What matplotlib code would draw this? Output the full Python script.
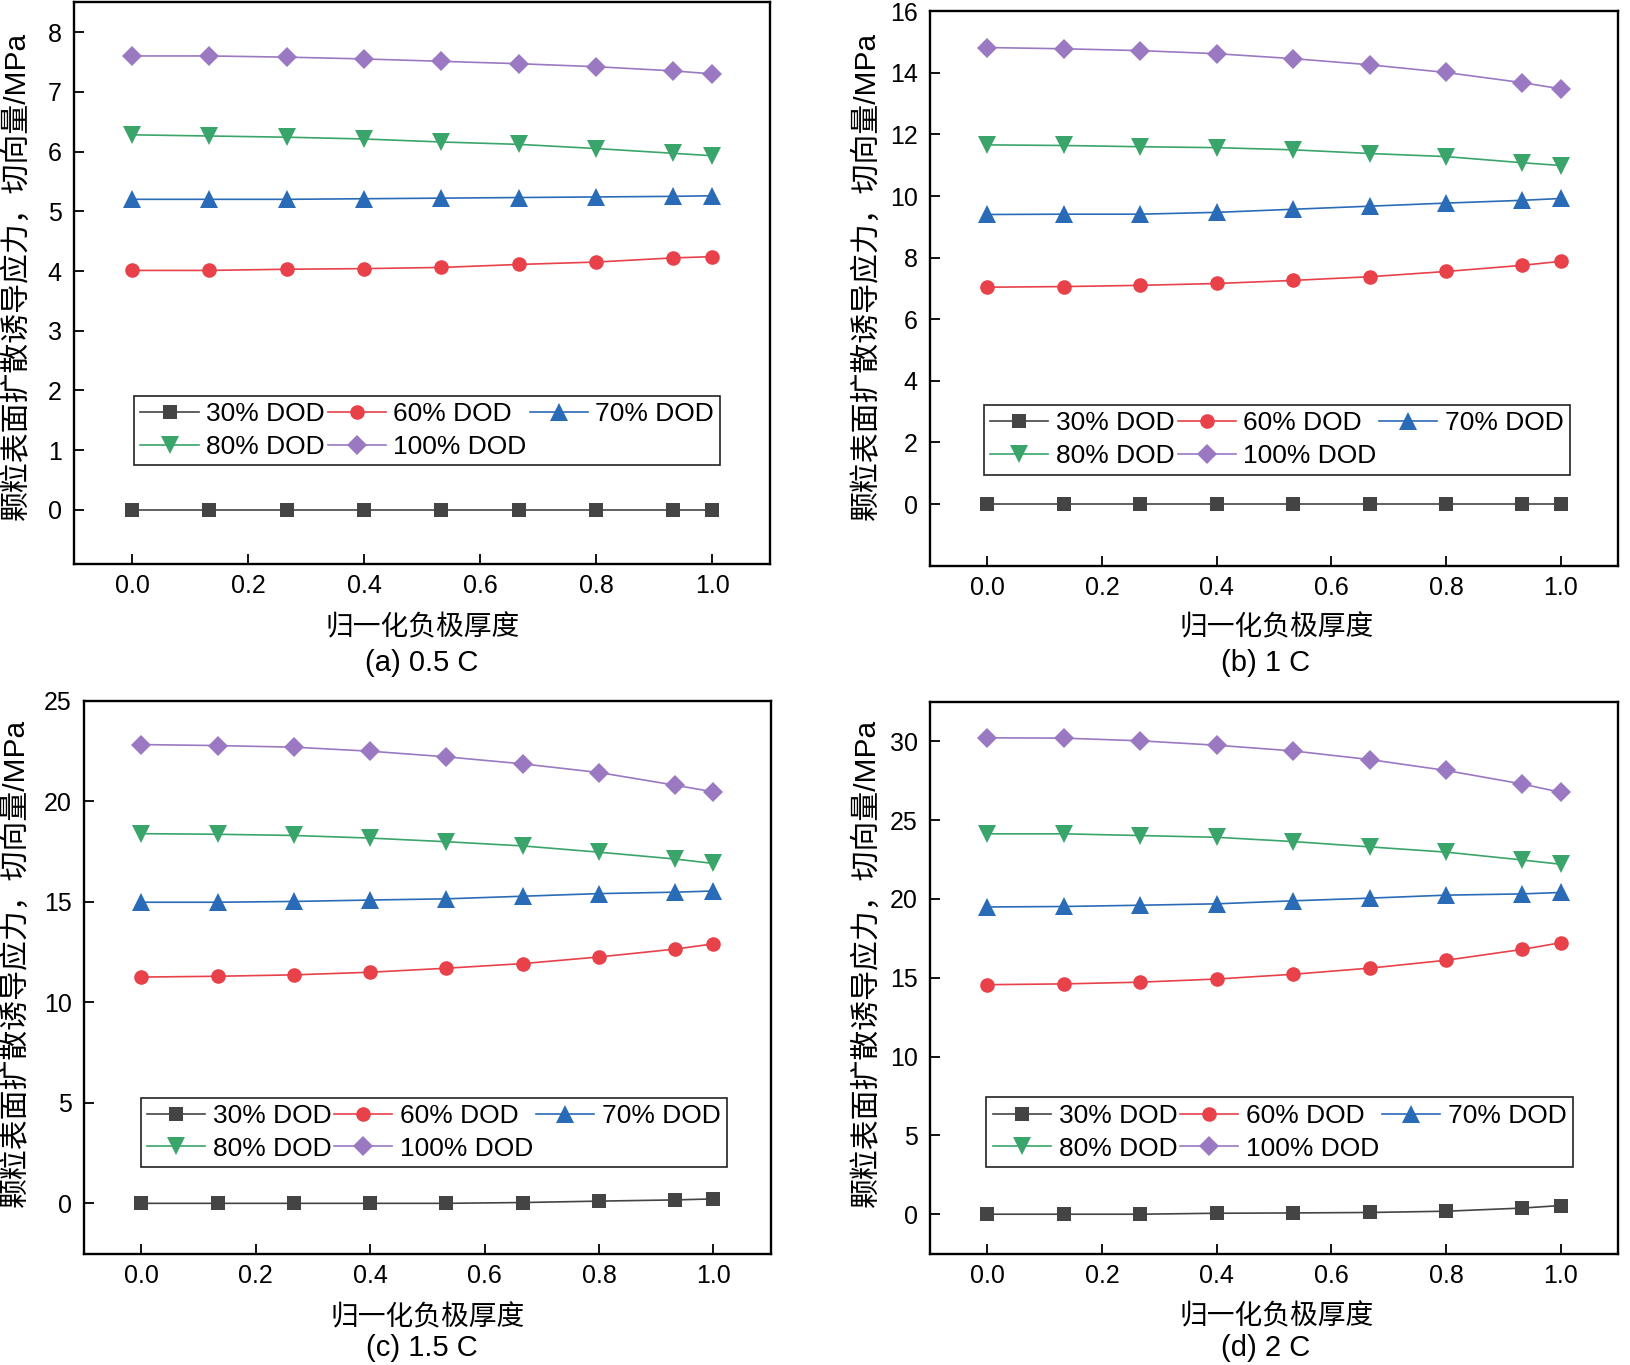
import matplotlib.pyplot as plt

plt.rcParams['font.family'] = ['Liberation Sans', 'Noto Sans CJK SC']

x = [0.0, 0.133, 0.267, 0.4, 0.533, 0.667, 0.8, 0.933, 1.0]
labels = ["30% DOD", "60% DOD", "70% DOD", "80% DOD", "100% DOD"]
captions = ["(a) 0.5 C", "(b) 1 C", "(c) 1.5 C", "(d) 2 C"]
xticks = [0.0, 0.2, 0.4, 0.6, 0.8, 1.0]
ylabel = "颗粒表面扩散诱导应力，切向量/MPa"
xlabel = "归一化负极厚度"

# (a) 0.5 C
a_30 = [0, 0, 0, 0, 0, 0, 0, 0, 0]
a_60 = [4.01, 4.01, 4.03, 4.04, 4.06, 4.11, 4.15, 4.22, 4.24]
a_70 = [5.20, 5.20, 5.20, 5.21, 5.22, 5.23, 5.24, 5.25, 5.26]
a_80 = [6.28, 6.26, 6.24, 6.21, 6.16, 6.12, 6.05, 5.97, 5.93]
a_100 = [7.60, 7.60, 7.58, 7.55, 7.51, 7.47, 7.42, 7.35, 7.30]
a_yticks = [0, 1, 2, 3, 4, 5, 6, 7, 8]

# (b) 1 C
b_30 = [0, 0, 0, 0, 0, 0, 0, 0, 0]
b_60 = [7.04, 7.06, 7.10, 7.16, 7.26, 7.38, 7.55, 7.75, 7.88]
b_70 = [9.40, 9.41, 9.41, 9.47, 9.57, 9.67, 9.77, 9.86, 9.92]
b_80 = [11.66, 11.64, 11.60, 11.57, 11.50, 11.38, 11.28, 11.08, 10.99]
b_100 = [14.82, 14.78, 14.72, 14.62, 14.46, 14.26, 14.01, 13.68, 13.48]
b_yticks = [0, 2, 4, 6, 8, 10, 12, 14, 16]

# (c) 1.5 C
c_30 = [0, 0, 0, 0, 0, 0.04, 0.11, 0.17, 0.22]
c_60 = [11.25, 11.29, 11.36, 11.49, 11.69, 11.92, 12.25, 12.64, 12.90]
c_70 = [14.97, 14.97, 15.01, 15.08, 15.14, 15.27, 15.40, 15.47, 15.53]
c_80 = [18.38, 18.35, 18.29, 18.16, 17.98, 17.77, 17.46, 17.12, 16.90]
c_100 = [22.81, 22.76, 22.68, 22.48, 22.20, 21.85, 21.42, 20.79, 20.46]
c_yticks = [0, 5, 10, 15, 20, 25]

# (d) 2 C
d_30 = [0, 0, 0, 0.06, 0.08, 0.11, 0.19, 0.39, 0.55]
d_60 = [14.56, 14.61, 14.72, 14.92, 15.22, 15.61, 16.11, 16.80, 17.22]
d_70 = [19.49, 19.52, 19.60, 19.69, 19.88, 20.05, 20.24, 20.32, 20.41]
d_80 = [24.13, 24.13, 24.02, 23.91, 23.64, 23.30, 22.97, 22.47, 22.20]
d_100 = [30.22, 30.20, 30.03, 29.75, 29.39, 28.84, 28.15, 27.29, 26.76]
d_yticks = [0, 5, 10, 15, 20, 25, 30]

panels = [
    ([a_30, a_60, a_70, a_80, a_100], a_yticks, (-0.9, 8.5)),
    ([b_30, b_60, b_70, b_80, b_100], b_yticks, (-2, 16)),
    ([c_30, c_60, c_70, c_80, c_100], c_yticks, (-2.5, 25)),
    ([d_30, d_60, d_70, d_80, d_100], d_yticks, (-2.5, 32.5)),
]

colors = ["#444444", "#e8414a", "#2a6bb8", "#3aa56a", "#9b79c2"]
markers = ["s", "o", "^", "v", "D"]
msizes = [9.5, 10.5, 12.5, 12.5, 10]

rects = [
    [0.0454, 0.5870, 0.4272, 0.4114],
    [0.5706, 0.5856, 0.4221, 0.4062],
    [0.0517, 0.0816, 0.4210, 0.4052],
    [0.5706, 0.0816, 0.4221, 0.4042],
]
legend_anchor = [(0.086, 0.299), (0.078, 0.290), (0.082, 0.282), (0.082, 0.283)]
ylabel_pos = [(-0.083, 0.513), (-0.092, 0.523), (-0.100, 0.526), (-0.093, 0.526)]
caption_x = [0.499, 0.487, 0.492, 0.487]
caption_y = [-0.177, -0.176, -0.171, -0.171]
xlabel_y = [-0.114, -0.113, -0.116, -0.116]

fig = plt.figure(figsize=(16.3, 13.65), dpi=100)

for i, (series, yticks, ylim) in enumerate(panels):
    ax = fig.add_axes(rects[i])
    lines = []
    for j, ys in enumerate(series):
        (ln,) = ax.plot(x, ys, color=colors[j], marker=markers[j], markersize=msizes[j],
                        linewidth=1.2, markeredgewidth=0, label=labels[j])
        lines.append(ln)

    ax.set_xlim(-0.1, 1.1)
    ax.set_ylim(*ylim)
    ax.set_xticks(xticks)
    ax.set_xticklabels([f"{t:.1f}" for t in xticks])
    ax.set_yticks(yticks)
    ax.tick_params(axis="both", direction="in", length=7, width=1.3, labelsize=18)
    ax.tick_params(axis="x", pad=7.5)
    ax.tick_params(axis="y", pad=9)
    for sp in ax.spines.values():
        sp.set_linewidth(1.7)

    ax.set_ylabel(ylabel, fontsize=21.5, va="center")
    ax.yaxis.set_label_coords(*ylabel_pos[i])
    ax.set_xlabel(xlabel, fontsize=20, va="center")
    ax.xaxis.set_label_coords(0.504 if i % 2 else 0.5, xlabel_y[i])
    ax.text(caption_x[i], caption_y[i], captions[i], transform=ax.transAxes,
            ha="center", va="center", fontsize=21)

    order = [0, 3, 1, 4, 2]
    leg = ax.legend([lines[k] for k in order], [labels[k] for k in order],
                    ncol=3, loc="upper left", bbox_to_anchor=legend_anchor[i],
                    fontsize=19, handlelength=2.2, handletextpad=0.28,
                    columnspacing=0.12, labelspacing=0.32, borderpad=0.25,
                    borderaxespad=0, fancybox=False, framealpha=1)
    leg.get_frame().set_edgecolor("#222222")
    leg.get_frame().set_linewidth(1.2)

fig.savefig("out.png", dpi=100)
